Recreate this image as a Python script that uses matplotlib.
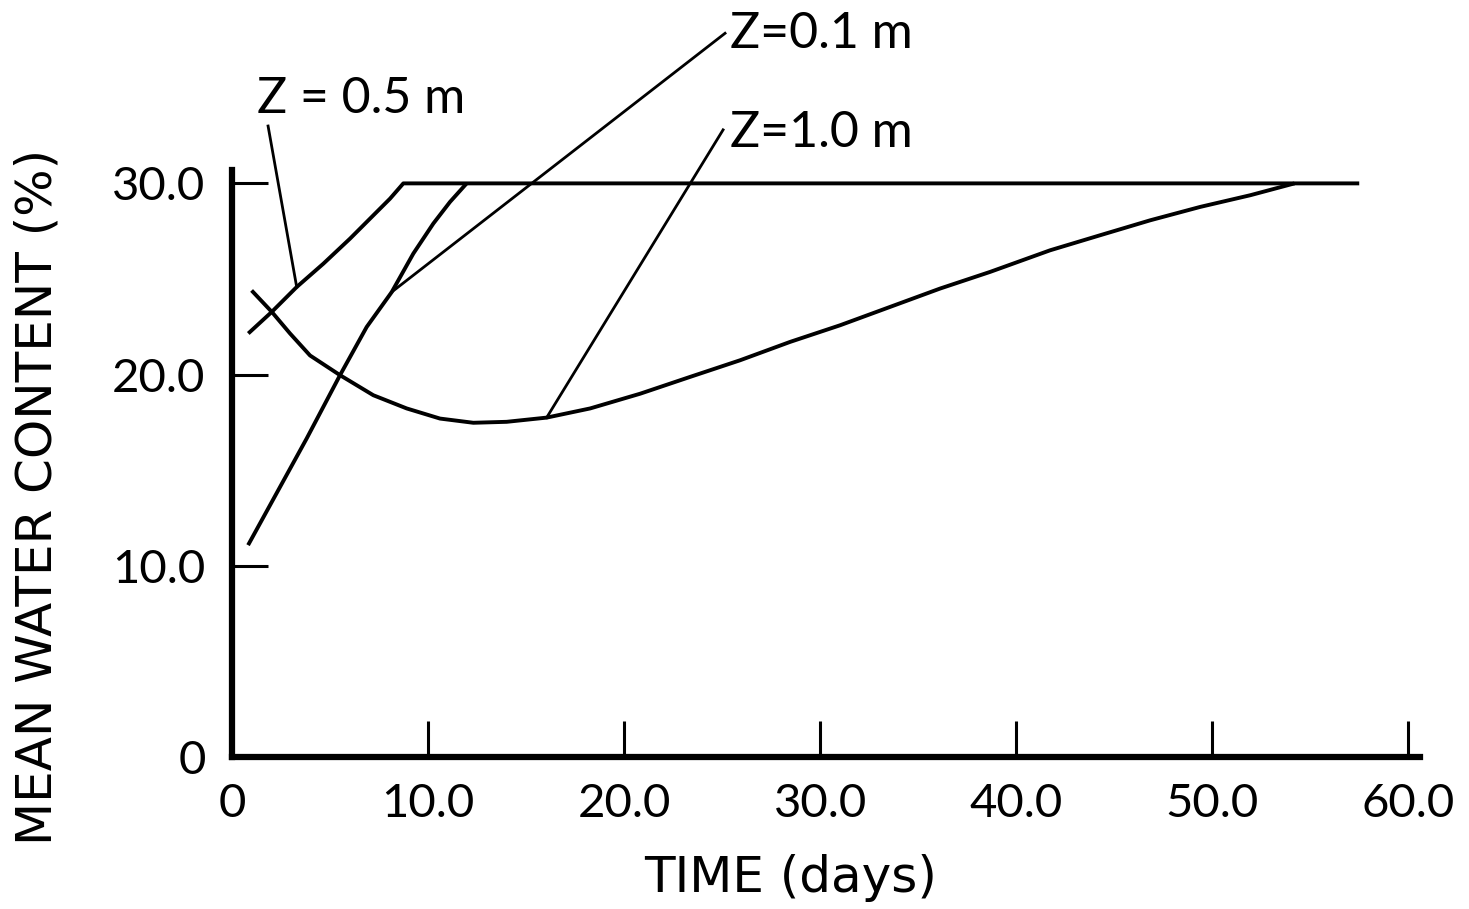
import matplotlib
matplotlib.use("Agg")
import matplotlib.pyplot as plt

# Mean water content (%) versus time (days) at three depths
days_z05 = [0.83, 2.03, 3.30, 4.66, 6.02, 7.21, 8.06, 8.74, 57.5]
wc_z05 = [22.15, 23.28, 24.58, 25.8, 27.11, 28.33, 29.2, 30.0, 30.0]

days_z01 = [0.82, 3.81, 5.51, 6.87, 8.15, 9.25, 10.27, 11.12, 11.97]
wc_z01 = [11.08, 16.66, 19.97, 22.49, 24.32, 26.33, 27.9, 29.03, 30.0]

days_z10 = [1.0, 2.03, 2.96, 3.98, 5.51, 7.21, 8.91, 10.61, 12.31, 14.01, 16.05,
            18.27, 20.82, 23.37, 25.92, 28.47, 31.02, 33.57, 36.12, 38.67,
            41.73, 44.29, 46.84, 49.39, 51.94, 54.2]
wc_z10 = [24.4, 23.28, 22.15, 21.0, 19.97, 18.92, 18.23, 17.7, 17.48, 17.53, 17.75,
          18.23, 19.0, 19.88, 20.75, 21.71, 22.58, 23.54, 24.5, 25.37,
          26.5, 27.29, 28.07, 28.77, 29.38, 30.0]

x_ticks = [0, 10, 20, 30, 40, 50, 60]
x_tick_labels = ["0", "10.0", "20.0", "30.0", "40.0", "50.0", "60.0"]
y_ticks = [0, 10, 20, 30]
y_tick_labels = ["0", "10.0", "20.0", "30.0"]

# Curve labels: text, text anchor (data), leader start (data), leader end on curve (data)
curve_labels = ["Z = 0.5 m", "Z=0.1 m", "Z=1.0 m"]
label_text_xy = [(1.28, 33.7), (25.4, 37.1), (25.4, 31.9)]
leader_start = [(1.84, 33.0), (25.15, 37.85), (25.05, 32.8)]
leader_end = [(3.30, 24.58), (8.15, 24.32), (16.05, 17.75)]

plt.rcParams["font.family"] = ["Lato", "DejaVu Sans"]

W, H = 1469, 909
fig = plt.figure(figsize=(W / 100, H / 100), dpi=100)
ax = fig.add_axes([232 / W, 1 - 757 / H, (1420 - 232) / W, (757 - 170) / H])
ax.set_xlim(0, 60.6)
ax.set_ylim(0, 30.7)

lw = 2.8
for d, w in [(days_z05, wc_z05), (days_z01, wc_z01), (days_z10, wc_z10)]:
    ax.plot(d, w, color="black", lw=lw, solid_capstyle="butt", solid_joinstyle="round")

for txt, txy, s, e in zip(curve_labels, label_text_xy, leader_start, leader_end):
    ax.plot([s[0], e[0]], [s[1], e[1]], color="black", lw=2.0, clip_on=False)
    ax.text(txy[0], txy[1], txt, fontsize=36, ha="left", va="baseline", clip_on=False)

for side in ("top", "right"):
    ax.spines[side].set_visible(False)
for side in ("left", "bottom"):
    ax.spines[side].set_linewidth(4.5)
    ax.spines[side].set_color("black")

ax.set_xticks(x_ticks)
ax.set_xticklabels(x_tick_labels)
ax.set_yticks(y_ticks)
ax.set_yticklabels(y_tick_labels)
ax.tick_params(axis="both", direction="in", length=26, width=2.2, labelsize=34, colors="black")
ax.tick_params(axis="x", pad=19)
ax.tick_params(axis="y", pad=19)
ax.yaxis.get_major_ticks()[0].tick1line.set_visible(False)
ax.xaxis.get_major_ticks()[0].tick1line.set_visible(False)

fig.text(38 / W, 1 - 497 / H, "MEAN WATER CONTENT (%)", rotation=90, fontsize=36,
         family=["DejaVu Sans"], ha="center", va="center")
fig.text(791 / W, 1 - 878 / H, "TIME (days)", fontsize=36, family=["DejaVu Sans"],
         ha="center", va="center")

fig.savefig("out.png", dpi=100, facecolor="white")
